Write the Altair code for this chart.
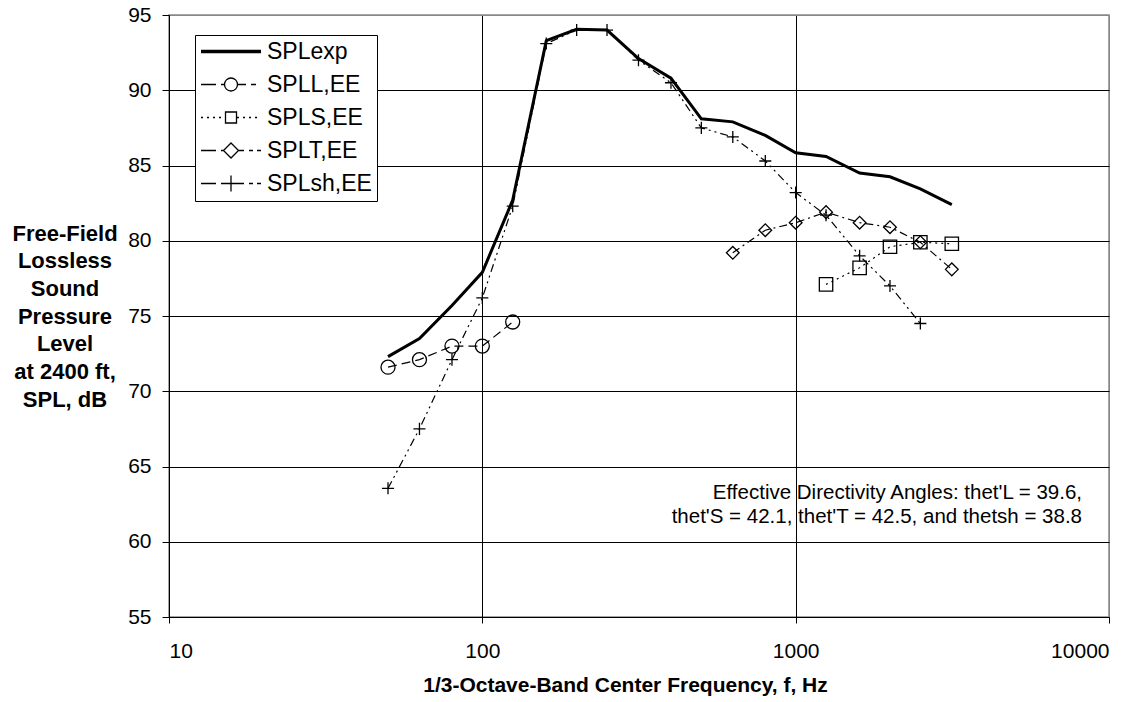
import altair as alt
import pandas as pd

# ---------------- data ----------------
series_names = ["SPLexp", "SPLL,EE", "SPLS,EE", "SPLT,EE", "SPLsh,EE"]

freq_exp = [50, 63, 80, 100, 125, 160, 200, 250, 315, 400, 500, 630, 800, 1000, 1250, 1600, 2000, 2500, 3150]
spl_exp = [72.3, 73.5, 75.7, 77.9, 82.7, 93.3, 94.05, 94.0, 92.1, 90.8, 88.1, 87.9, 87.0, 85.85, 85.6, 84.5, 84.25, 83.45, 82.4]

freq_L = [50, 63, 80, 100, 125]
spl_L = [71.6, 72.1, 73.0, 73.0, 74.6]

freq_S = [1250, 1600, 2000, 2500, 3150]
spl_S = [77.1, 78.2, 79.6, 79.9, 79.8]

freq_T = [630, 800, 1000, 1250, 1600, 2000, 2500, 3150]
spl_T = [79.2, 80.7, 81.2, 81.9, 81.2, 80.9, 79.9, 78.1]

freq_sh = [50, 63, 80, 100, 125, 160, 200, 250, 315, 400, 500, 630, 800, 1000, 1250, 1600, 2000, 2500]
spl_sh = [63.55, 67.5, 72.1, 76.2, 82.3, 93.1, 94.0, 94.0, 92.0, 90.5, 87.5, 86.9, 85.3, 83.2, 81.7, 79.0, 77.0, 74.5]

x_ticks = [10, 100, 1000, 10000]
y_ticks = [55, 60, 65, 70, 75, 80, 85, 90, 95]

annot_lines = ["Effective Directivity Angles: thet'L = 39.6,",
               "thet'S = 42.1, thet'T = 42.5, and thetsh = 38.8"]
annot_x = [8200]
annot_y = [63.25]

x_title = "1/3-Octave-Band Center Frequency, f, Hz"
y_title = ["Free-Field", "Lossless", "Sound", "Pressure", "Level", "at 2400 ft,", "SPL, dB"]

# ---------------- table ----------------
rows = []
for name, fs, vs in [("SPLexp", freq_exp, spl_exp), ("SPLL,EE", freq_L, spl_L),
                     ("SPLS,EE", freq_S, spl_S), ("SPLT,EE", freq_T, spl_T),
                     ("SPLsh,EE", freq_sh, spl_sh)]:
    for f, v in zip(fs, vs):
        rows.append({"freq": f, "spl": v, "series": name})
df = pd.DataFrame(rows)

# ---------------- styles ----------------
marker_series = series_names[1:]
dash_patterns = [[9, 5], [2, 4], [8, 4, 2, 4], [8, 4, 2, 4, 2, 4]]
marker_shapes = ["circle", "square", "diamond", "M-1,0H1M0,-1V1"]
marker_sizes = [196, 145, 240, 256]

FONT = "Liberation Sans"

# legend symbol paths: a 60 px wide line sample with the marker in the middle
HALF = 30.0


def fmt(v):
    return f"{v / HALF:.4f}"


def dash_segments(pattern, skip):
    segs = []
    x = -HALF
    i = 0
    on = True
    while x < HALF - 1e-9:
        L = pattern[i % len(pattern)]
        xe = min(x + L, HALF)
        if on:
            a, b = x, xe
            if skip is not None:
                lo, hi = skip
                if b <= lo or a >= hi:
                    segs.append((a, b))
                else:
                    if a < lo:
                        segs.append((a, lo))
                    if b > hi:
                        segs.append((hi, b))
            else:
                segs.append((a, b))
        x = xe
        i += 1
        on = not on
    return "".join(f"M{fmt(a)},0H{fmt(b)}" for a, b in segs if b - a > 0.3)


def circle_path(r):
    return f"M{fmt(r)},0A{fmt(r)},{fmt(r)} 0 1,1 {fmt(-r)},0A{fmt(r)},{fmt(r)} 0 1,1 {fmt(r)},0"


def square_path(h):
    return f"M{fmt(-h)},{fmt(-h)}H{fmt(h)}V{fmt(h)}H{fmt(-h)}Z"


def diamond_path(d):
    return f"M0,{fmt(-d)}L{fmt(d)},0L0,{fmt(d)}L{fmt(-d)},0Z"


def plus_path(p):
    return f"M{fmt(-p)},0H{fmt(p)}M0,{fmt(-p)}V{fmt(p)}"


exp_legend = "".join(f"M{fmt(-HALF)},{dy:.4f}H{fmt(HALF)}" for dy in (-0.033, 0.0, 0.033))
legend_paths = [
    exp_legend,
    dash_segments([15, 5, 5, 5], (-7, 7)) + circle_path(6.5),
    dash_segments([2, 4], (-5.5, 5.5)) + square_path(5.5),
    dash_segments([15, 5, 4, 4], (-7.5, 7.5)) + diamond_path(7.5),
    dash_segments([15, 5, 4, 4], None) + plus_path(8),
]

# ---------------- encodings ----------------
x_enc = alt.X(
    "freq:Q",
    scale=alt.Scale(type="log", domain=[10, 10000], nice=False),
    axis=alt.Axis(
        values=x_ticks, format="d", title=x_title,
        grid=True,
        gridColor={"condition": {"test": "datum.value >= 10000", "value": "#888888"}, "value": "#000000"},
        gridWidth=1,
        domainColor="black", domainWidth=1,
        tickColor="black", tickSize=6,
        labelFont=FONT, labelFontSize=21, labelColor="black",
        labelPadding=28, labelBaseline="middle",
        titleFont=FONT, titleFontSize=21, titleFontWeight="bold", titleColor="black",
        titleX=456, titleY=68, titleBaseline="middle", titleAnchor="start", titleAlign="center",
    ),
)
y_enc = alt.Y(
    "spl:Q",
    scale=alt.Scale(domain=[55, 95], nice=False, zero=False),
    axis=alt.Axis(
        values=y_ticks, title=y_title,
        grid=True,
        gridColor={"condition": {"test": "datum.value >= 95", "value": "#888888"}, "value": "#000000"},
        gridWidth=1,
        domainColor="black", domainWidth=1,
        tickColor="black", tickSize=7,
        labelFont=FONT, labelFontSize=21, labelColor="black", labelPadding=11,
        titleFont=FONT, titleFontSize=22, titleFontWeight="bold", titleColor="black",
        titleAngle=0, titleAlign="center", titleBaseline="middle",
        titleX=-104.5, titleY=218, titleLineHeight=27.7,
    ),
)

base = alt.Chart(df)

dashed = base.transform_filter(alt.datum.series != "SPLexp").mark_line(
    color="black", strokeWidth=1.2
).encode(
    x=x_enc, y=y_enc,
    detail="series:N",
    strokeDash=alt.StrokeDash("series:N", scale=alt.Scale(domain=marker_series, range=dash_patterns), legend=None),
)

exp_line = base.transform_filter(alt.datum.series == "SPLexp").mark_line(
    color="black", strokeWidth=3
).encode(x=x_enc, y=y_enc)

points = base.transform_filter(alt.datum.series != "SPLexp").mark_point(
    filled=False, color="black", strokeWidth=1.3, opacity=1
).encode(
    x=x_enc, y=y_enc,
    shape=alt.Shape("series:N", scale=alt.Scale(domain=marker_series, range=marker_shapes), legend=None),
    size=alt.Size("series:N", scale=alt.Scale(domain=marker_series, range=marker_sizes), legend=None),
)

legend_layer = base.transform_filter("false").mark_point(
    filled=False, color="black", strokeWidth=1.3, size=3600, opacity=1
).encode(
    x=x_enc, y=y_enc,
    shape=alt.Shape(
        "series:N",
        scale=alt.Scale(domain=series_names, range=legend_paths),
        legend=alt.Legend(
            title=None, orient="none", legendX=26, legendY=20,
            padding=5, rowPadding=9, offset=0, clipHeight=23,
            labelFont=FONT, labelFontSize=23, labelColor="black", labelOffset=5,
            labelLimit=400,
            symbolSize=3600, symbolStrokeWidth=1.3, symbolStrokeColor="black",
            symbolFillColor="transparent", symbolOpacity=1,
            fillColor="white", strokeColor="black",
        ),
    ),
)

annot_df = pd.DataFrame({"freq": annot_x, "spl": annot_y, "t": ["\n".join(annot_lines)]})
annot = alt.Chart(annot_df).mark_text(
    align="right", baseline="middle", font=FONT, fontSize=20.5, color="black",
    lineBreak="\n", lineHeight=24,
).encode(x=x_enc, y=y_enc, text="t:N")

chart = alt.layer(dashed, exp_line, points, legend_layer, annot).resolve_scale(
    shape="independent"
).properties(
    width=940, height=602,
    autosize=alt.AutoSizeParams(type="none"),
    padding={"left": 169, "top": 15, "right": 37, "bottom": 85},
    background="white",
).configure_view(
    stroke="#888888", strokeWidth=1.5
)

chart.save("out.html", embed_options={"renderer": "svg", "actions": False})
